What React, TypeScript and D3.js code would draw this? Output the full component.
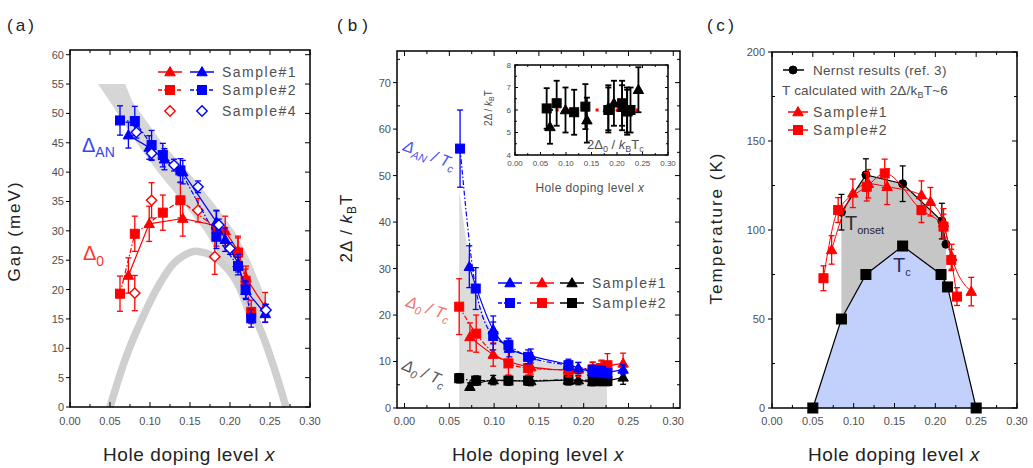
import React from "react";
import * as d3 from "d3";

type Pt = [number, number, number?];

// ---------------- Panel (a): gap (meV) vs hole doping, [x, value, error] ----------------
const aAN_S1: Pt[] = [[0.073,46.3,2.2],[0.099,44.2,2],[0.118,42.2,1.8],[0.141,40.0,2],[0.183,31.5,2],[0.194,28.5,2],[0.21,24.5,1.5],[0.22,19.8,1.5],[0.244,15.9,1.5]];
const aAN_S2: Pt[] = [[0.0625,48.8,2.5],[0.081,48.7,2.5],[0.102,44.6,2.5],[0.116,42.9,2],[0.138,40.3,2],[0.183,29.0,2],[0.21,24.0,1.5],[0.2195,20.0,1.5],[0.2265,15.1,1.5]];
const aAN_S4: Pt[] = [[0.083,46.8,1],[0.102,43.2,1.2],[0.13,41.2,1],[0.16,37.5,1],[0.186,31.0,1],[0.2,27.0,1],[0.245,16.5,1]];
const a0_S1: Pt[] = [[0.073,22.4,3],[0.099,31.2,3],[0.141,32.1,3],[0.183,30.9,2.5],[0.194,30.0,2.5],[0.21,26.6,2.5],[0.22,22.0,2],[0.244,17.0,2.5]];
const a0_S2: Pt[] = [[0.0625,19.3,3],[0.081,29.5,3],[0.116,33.1,3],[0.138,35.2,3],[0.183,30.4,3],[0.21,26.3,2.5],[0.2195,21.5,2],[0.2265,16.2,2]];
const a0_S4: Pt[] = [[0.081,19.4,3],[0.102,35.2,3],[0.16,33.5,2],[0.181,25.6,3]];
// grey guide band for Δ_AN: [gap, x left edge, x right edge]
const aBand: number[][] = [[55,0.035,0.069],[52,0.05,0.078],[45,0.083,0.115],[40,0.11,0.148],[35,0.14,0.178],[30,0.168,0.205],[25,0.19,0.225],[20,0.208,0.24],[15,0.222,0.252]];
// grey guide dome for Δ0: [x, gap]
const aDome: number[][] = [[0.05,0],[0.07,8.5],[0.09,15],[0.11,20.5],[0.13,24.5],[0.15,26.3],[0.16,26.5],[0.18,25.6],[0.2,23],[0.22,18.5],[0.24,12.5],[0.255,6.7],[0.27,0]];

// ---------------- Panel (b): 2Δ/kBT ----------------
const bAN_S1: Pt[] = [[0.0723,30.4,4.5],[0.099,16.8,3],[0.117,12.8,1.8],[0.141,11.2,1.5],[0.183,9.3,1.2],[0.194,8.6,1.2],[0.21,7.8,1],[0.22,7.6,1],[0.244,8.3,1]];
const bAN_S2: Pt[] = [[0.062,55.8,8.3],[0.0795,25.7,4.5],[0.099,15.5,3],[0.116,13.5,1.5],[0.138,11.0,1.5],[0.183,9.2,1],[0.21,8.2,1],[0.2195,8.0,1],[0.2265,7.5,1]];
const b0_S1: Pt[] = [[0.073,15.3,3],[0.099,11.5,2.5],[0.141,8.8,1.5],[0.183,8.2,1.5],[0.194,8.3,1.5],[0.21,8.4,1.5],[0.22,8.8,1.5],[0.244,9.6,2.2]];
const b0_S2: Pt[] = [[0.061,21.8,6],[0.08,16.0,4],[0.116,9.6,2.5],[0.138,8.6,1.5],[0.183,8.2,1.5],[0.21,8.3,1.5],[0.2195,8.6,1.5],[0.2265,9.2,2.5]];
const bT_S1: Pt[] = [[0.073,4.6,0.8],[0.099,6.0,1],[0.141,5.8,1],[0.183,6.0,1],[0.194,6.0,1],[0.21,5.6,0.8],[0.22,5.7,0.8],[0.244,6.6,1.5]];
const bT_S2: Pt[] = [[0.061,6.4,1],[0.08,5.9,1],[0.116,5.9,1],[0.138,5.9,1],[0.183,6.0,1],[0.21,6.0,1],[0.2195,5.8,1],[0.2265,5.8,1]];
const bShade: number[][] = [[0.061,47],[0.066,40],[0.072,32],[0.08,25],[0.09,19.5],[0.1,16],[0.115,13],[0.13,11.5],[0.15,10],[0.17,9.5],[0.19,9],[0.21,8.5],[0.226,8.5]];
// inset: 2Δ0/kBTc
const inS1: Pt[] = [[0.0686,5.25,0.75],[0.099,6.0,1],[0.141,5.55,1],[0.183,6.1,1],[0.194,6.3,1],[0.21,6.1,1],[0.22,5.9,1],[0.242,6.9,1]];
const inS2: Pt[] = [[0.0621,6.07,0.9],[0.0817,6.3,1],[0.116,5.9,1],[0.138,6.15,1],[0.183,6.0,1],[0.21,6.3,1],[0.2195,6.0,1],[0.2265,6.0,1]];
const inRef: number[][] = [[0.06,6],[0.245,6]];

// ---------------- Panel (c): temperature (K) ----------------
const cTc: number[][] = [[0.05,0],[0.085,50],[0.115,75],[0.16,91],[0.207,75],[0.215,68],[0.25,0]];
const cNernst: Pt[] = [[0.085,110,10],[0.115,131,9],[0.16,126,10],[0.208,105,10],[0.213,92,0]];
const cS1: Pt[] = [[0.073,88.8,8],[0.099,120.6,8],[0.118,126,8],[0.141,124.3,10],[0.183,119.6,8],[0.194,115.9,8],[0.21,104,8],[0.22,85,7],[0.244,65.4,8]];
const cS2: Pt[] = [[0.063,72.9,7],[0.081,111.2,7],[0.116,124.3,8],[0.138,131.8,8],[0.183,111.2,7],[0.21,101.9,7],[0.2195,83.2,6],[0.2265,62.6,5]];

// ticks
const xMajor = [0, 0.05, 0.1, 0.15, 0.2, 0.25, 0.3];
const xMinor = [0.025, 0.075, 0.125, 0.175, 0.225, 0.275];
const aYMajor = [0,5,10,15,20,25,30,35,40,45,50,55,60];
const bYMajor = [0,10,20,30,40,50,60,70];
const bYMinor = [5,15,25,35,45,55,65,75];
const cYMajor = [0,50,100,150,200];
const cYMinor = [25,75,125,175];
const inYMajor = [4,5,6,7,8];
const inYMinor = [4.5,5.5,6.5,7.5];

const FONT = "'Liberation Sans', Arial, Helvetica, sans-serif";
const RED = "#ff0000";
const BLUE = "#0000ff";
const TXT = "#505050";

function Mark({ shape, x, y, s, color, open }: any) {
  const h = s / 2;
  const fill = open ? "#fff" : color;
  if (shape === "sq") return <rect x={x - h} y={y - h} width={s} height={s} fill={fill} stroke={color} strokeWidth={1} />;
  if (shape === "tri") {
    const p = `M${x},${y - 0.6 * s}L${x + 0.58 * s},${y + 0.42 * s}L${x - 0.58 * s},${y + 0.42 * s}Z`;
    return <path d={p} fill={fill} stroke={color} strokeWidth={1} />;
  }
  if (shape === "dia") {
    const r = h * 1.15;
    const p = `M${x},${y - r}L${x + r},${y}L${x},${y + r}L${x - r},${y}Z`;
    return <path d={p} fill={fill} stroke={color} strokeWidth={1.4} />;
  }
  return <circle cx={x} cy={y} r={h} fill={fill} stroke={color} strokeWidth={1} />;
}

function Series({ data, sx, sy, color, shape, s = 9, dash, curve, open, line = true, cap = 3, lw = 1.2, ew = 1.3 }: any) {
  const gen = d3.line<any>().x((d) => sx(d[0])).y((d) => sy(d[1])).curve(curve || d3.curveLinear);
  return (
    <g>
      {line && <path d={gen(data) || ""} fill="none" stroke={color} strokeWidth={lw} strokeDasharray={dash} />}
      {data.map((d: Pt, i: number) =>
        d[2] ? (
          <g key={"e" + i} stroke={color} strokeWidth={ew}>
            <line x1={sx(d[0])} x2={sx(d[0])} y1={sy(d[1] - (d[2] as number))} y2={sy(d[1] + (d[2] as number))} />
            <line x1={sx(d[0]) - cap} x2={sx(d[0]) + cap} y1={sy(d[1] - (d[2] as number))} y2={sy(d[1] - (d[2] as number))} />
            <line x1={sx(d[0]) - cap} x2={sx(d[0]) + cap} y1={sy(d[1] + (d[2] as number))} y2={sy(d[1] + (d[2] as number))} />
          </g>
        ) : null
      )}
      {data.map((d: Pt, i: number) => (
        <Mark key={"m" + i} shape={shape} x={sx(d[0])} y={sy(d[1])} s={s} color={color} open={open} />
      ))}
    </g>
  );
}

function Frame({ sx, sy, xMaj, xMin, yMaj, yMin = [], xFmt, yFmt, fs = 11, tl = 5, tm = 3, leftOut = true, xLab = 17, yLab = 6, sw = 1.5 }: any) {
  const [x0, x1] = sx.range();
  const [y0, y1] = sy.range();
  return (
    <g>
      <g stroke="#000" strokeWidth={1}>
        {xMaj.map((v: number, i: number) => (
          <g key={"xm" + i}>
            <line x1={sx(v)} x2={sx(v)} y1={y0} y2={y0 - tl} />
            <line x1={sx(v)} x2={sx(v)} y1={y1} y2={y1 + tl} />
          </g>
        ))}
        {xMin.map((v: number, i: number) => (
          <g key={"xn" + i}>
            <line x1={sx(v)} x2={sx(v)} y1={y0} y2={y0 - tm} />
            <line x1={sx(v)} x2={sx(v)} y1={y1} y2={y1 + tm} />
          </g>
        ))}
        {yMaj.map((v: number, i: number) => (
          <g key={"ym" + i}>
            <line x1={leftOut ? x0 - 4 : x0} x2={leftOut ? x0 : x0 + tl} y1={sy(v)} y2={sy(v)} />
            <line x1={x1} x2={x1 - tl} y1={sy(v)} y2={sy(v)} />
          </g>
        ))}
        {yMin.map((v: number, i: number) => (
          <g key={"yn" + i}>
            <line x1={x0} x2={x0 + tm} y1={sy(v)} y2={sy(v)} />
            <line x1={x1} x2={x1 - tm} y1={sy(v)} y2={sy(v)} />
          </g>
        ))}
      </g>
      <rect x={x0} y={y1} width={x1 - x0} height={y0 - y1} fill="none" stroke="#000" strokeWidth={sw} />
      <g fill={TXT} fontSize={fs} fontFamily={FONT}>
        {xMaj.map((v: number, i: number) => (
          <text key={"xl" + i} x={sx(v)} y={y0 + xLab} textAnchor="middle">{xFmt(v)}</text>
        ))}
        {yMaj.map((v: number, i: number) => (
          <text key={"yl" + i} x={x0 - yLab} y={sy(v) + fs * 0.36} textAnchor="end">{yFmt(v)}</text>
        ))}
      </g>
    </g>
  );
}

function XTitle({ x, y, size = 19 }: any) {
  return (
    <text x={x} y={y} textAnchor="middle" fontSize={size} fontFamily={FONT} fill="#222" letterSpacing={0.6}>
      Hole doping level <tspan fontStyle="italic">x</tspan>
    </text>
  );
}

function LegendRow({ x, y, items, label, w = 12 }: any) {
  return (
    <g>
      {items.map((it: any, i: number) => (
        <g key={i}>
          <line x1={it.x - w} x2={it.x + w} y1={y} y2={y} stroke={it.color} strokeWidth={1.5} strokeDasharray={it.dash} />
          <Mark shape={it.shape} x={it.x} y={y} s={9} color={it.color} open={it.open} />
        </g>
      ))}
      <text x={x} y={y + 5} fontSize={14} fontFamily={FONT} fill={TXT} letterSpacing={1.5}>{label}</text>
    </g>
  );
}

export default function App() {
  const f2 = d3.format(".2f");
  const f0 = d3.format("d");
  const DASH = "5,2,1.5,2";

  // panel a
  const aX = d3.scaleLinear().domain([0, 0.3]).range([70, 310]);
  const aY = d3.scaleLinear().domain([0, 60.8]).range([407, 50]);
  const bandArea = d3.area<number[]>().y((d) => aY(d[0])).x0((d) => aX(d[1])).x1((d) => aX(d[2]));
  const domeLine = d3.line<number[]>().x((d) => aX(d[0])).y((d) => aY(d[1])).curve(d3.curveCatmullRom);

  // panel b
  const bX = d3.scaleLinear().domain([-0.0084, 0.3075]).range([397, 680]);
  const bY = d3.scaleLinear().domain([0, 76.8]).range([408, 51]);
  const shadeArea = d3.area<number[]>().x((d) => bX(d[0])).y0(bY(0)).y1((d) => bY(d[1])).curve(d3.curveMonotoneX);
  const iX = d3.scaleLinear().domain([0, 0.3]).range([515, 668]);
  const iY = d3.scaleLinear().domain([4, 8]).range([155, 65]);

  // panel c
  const cX = d3.scaleLinear().domain([0, 0.3]).range([772, 1017]);
  const cY = d3.scaleLinear().domain([0, 200]).range([408, 52]);
  const tcInterp = d3.scaleLinear().domain(cTc.map((d) => d[0])).range(cTc.map((d) => d[1]));
  const tcArea = d3.area<number[]>().x((d) => cX(d[0])).y0(cY(0)).y1((d) => cY(d[1]));
  const nx0 = cNernst[0][0];
  const nx1 = cNernst[cNernst.length - 1][0];
  const grayPoly: number[][] = [
    ...cNernst.map((d) => [d[0], d[1]]),
    [nx1, tcInterp(nx1)],
    ...cTc.filter((d) => d[0] > nx0 && d[0] < nx1).reverse(),
    [nx0, tcInterp(nx0)],
  ];
  const polyLine = d3.line<number[]>().x((d) => cX(d[0])).y((d) => cY(d[1]));
  const tcLine = d3.line<number[]>().x((d) => cX(d[0])).y((d) => cY(d[1]));

  return (
    <svg width={1033} height={468} style={{ display: "block", position: "absolute", left: 0, top: 0, background: "#fff" }} fontFamily={FONT}>
      <rect width={1033} height={468} fill="#fff" />

      {/* ================= Panel (a) ================= */}
      <text x={7} y={31} fontSize={17} fill="#222" textLength={27}>(a)</text>
      <path d={bandArea(aBand) || ""} fill="#d6d6d6" />
      <path d={domeLine(aDome) || ""} fill="none" stroke="#cfcfcf" strokeWidth={7.5} />
      <Frame sx={aX} sy={aY} xMaj={xMajor} xMin={xMinor} yMaj={aYMajor} xFmt={f2} yFmt={f0} xLab={18} />
      <Series data={a0_S2} sx={aX} sy={aY} color={RED} shape="sq" dash={DASH} />
      <Series data={a0_S1} sx={aX} sy={aY} color={RED} shape="tri" />
      <Series data={a0_S4} sx={aX} sy={aY} color={RED} shape="dia" open line={false} />
      <Series data={aAN_S2} sx={aX} sy={aY} color={BLUE} shape="sq" dash={DASH} />
      <Series data={aAN_S1} sx={aX} sy={aY} color={BLUE} shape="tri" />
      <Series data={aAN_S4} sx={aX} sy={aY} color={BLUE} shape="dia" open line={false} />
      <LegendRow x={222} y={72} label="Sample#1" items={[{ x: 170, color: RED, shape: "tri" }, { x: 202, color: BLUE, shape: "tri" }]} />
      <LegendRow x={222} y={90} label="Sample#2" items={[{ x: 170, color: RED, shape: "sq", dash: "4,2,1.5,2" }, { x: 202, color: BLUE, shape: "sq", dash: "4,2,1.5,2" }]} />
      <g>
        <Mark shape="dia" x={170} y={111} s={9} color={RED} open />
        <Mark shape="dia" x={202} y={111} s={9} color={BLUE} open />
        <text x={222} y={116} fontSize={14} fill={TXT} letterSpacing={1.5}>Sample#4</text>
      </g>
      <text x={82} y={152} fontSize={20} fill="#3344ee">Δ<tspan dy={5} fontSize={14}>AN</tspan></text>
      <text x={83} y={260} fontSize={20} fill="#ff3333">Δ<tspan dy={6} fontSize={14}>0</tspan></text>
      <text transform="translate(20,231) rotate(-90)" textAnchor="middle" fontSize={17} fill="#222" letterSpacing={2}>Gap (meV)</text>
      <XTitle x={189} y={461} />

      {/* ================= Panel (b) ================= */}
      <text x={337} y={31} fontSize={17} fill="#222" textLength={31}>(b)</text>
      <path d={shadeArea(bShade) || ""} fill="#dcdcdc" />
      <Frame sx={bX} sy={bY} xMaj={xMajor} xMin={xMinor} yMaj={bYMajor} yMin={bYMinor} xFmt={f2} yFmt={f0} xLab={17} />
      <Series data={bT_S2} sx={bX} sy={bY} color="#000" shape="sq" dash={DASH} curve={d3.curveMonotoneX} />
      <Series data={bT_S1} sx={bX} sy={bY} color="#000" shape="tri" curve={d3.curveMonotoneX} />
      <Series data={b0_S2} sx={bX} sy={bY} color={RED} shape="sq" dash={DASH} curve={d3.curveMonotoneX} />
      <Series data={b0_S1} sx={bX} sy={bY} color={RED} shape="tri" curve={d3.curveMonotoneX} />
      <Series data={bAN_S2} sx={bX} sy={bY} color={BLUE} shape="sq" dash={DASH} curve={d3.curveMonotoneX} />
      <Series data={bAN_S1} sx={bX} sy={bY} color={BLUE} shape="tri" curve={d3.curveMonotoneX} />
      <LegendRow x={592} y={283} label="Sample#1" items={[{ x: 510, color: BLUE, shape: "tri" }, { x: 542, color: RED, shape: "tri" }, { x: 572, color: "#000", shape: "tri" }]} />
      <LegendRow x={592} y={303} label="Sample#2" items={[{ x: 510, color: BLUE, shape: "sq", dash: "4,2,1.5,2" }, { x: 542, color: RED, shape: "sq" }, { x: 572, color: "#000", shape: "sq" }]} />
      <text transform="translate(402,150) rotate(21)" fontSize={16} fontStyle="italic" fill="#4455ee">Δ<tspan dy={4} fontSize={11}>AN</tspan><tspan dy={-4}> / T</tspan><tspan dy={4} fontSize={11}>c</tspan></text>
      <text transform="translate(405,306) rotate(19)" fontSize={16} fontStyle="italic" fill="#f07070">Δ<tspan dy={4} fontSize={11}>0</tspan><tspan dy={-4}> / T</tspan><tspan dy={4} fontSize={11}>c</tspan></text>
      <text transform="translate(401,369) rotate(23)" fontSize={16} fontStyle="italic" fill="#555">Δ<tspan dy={4} fontSize={11}>0</tspan><tspan dy={-4}> / T</tspan><tspan dy={4} fontSize={11}>c</tspan></text>
      <text transform="translate(352,228) rotate(-90)" textAnchor="middle" fontSize={17} fill="#222" letterSpacing={1}>2Δ / <tspan fontStyle="italic">k</tspan><tspan dy={4} fontSize={12}>B</tspan><tspan dy={-4}>T</tspan></text>
      <XTitle x={538} y={461} />

      {/* inset */}
      <rect x={515} y={65} width={153} height={90} fill="#fff" />
      <path d={d3.line<number[]>().x((d) => iX(d[0])).y((d) => iY(d[1]))(inRef) || ""} stroke={RED} strokeWidth={3} strokeDasharray="3,7" fill="none" />
      <Frame sx={iX} sy={iY} xMaj={xMajor} xMin={xMinor} yMaj={inYMajor} yMin={inYMinor} xFmt={f2} yFmt={f0} fs={8} tl={3} tm={2} leftOut={false} xLab={11} yLab={4} />
      <Series data={inS2} sx={iX} sy={iY} color="#000" shape="sq" line={false} s={9} cap={3} ew={1.8} />
      <Series data={inS1} sx={iX} sy={iY} color="#000" shape="tri" line={false} s={9} cap={3} ew={1.8} />
      <text x={587} y={149} fontSize={13} fill={TXT}>2Δ<tspan dy={3} fontSize={9}>0</tspan><tspan dy={-3}> / </tspan><tspan fontStyle="italic">k</tspan><tspan dy={3} fontSize={9}>B</tspan><tspan dy={-3}>T</tspan><tspan dy={3} fontSize={9}>c</tspan></text>
      <text transform="translate(492,108) rotate(-90)" textAnchor="middle" fontSize={10} fill={TXT}>2Δ / <tspan fontStyle="italic">k</tspan><tspan dy={2} fontSize={7}>B</tspan><tspan dy={-2}>T</tspan></text>
      <text x={590} y={192} textAnchor="middle" fontSize={12} fill={TXT} letterSpacing={0.4}>Hole doping level <tspan fontStyle="italic">x</tspan></text>

      {/* ================= Panel (c) ================= */}
      <text x={707} y={31} fontSize={17} fill="#222" textLength={27}>(c)</text>
      <path d={tcArea(cTc) || ""} fill="#c2d1fb" />
      <path d={(polyLine(grayPoly) || "") + "Z"} fill="#c6c6c6" />
      <Frame sx={cX} sy={cY} xMaj={xMajor} xMin={xMinor} yMaj={cYMajor} yMin={cYMinor} xFmt={f2} yFmt={f0} xLab={17} yLab={7} />
      <path d={tcLine(cTc) || ""} fill="none" stroke="#000" strokeWidth={1.2} />
      {cTc.map((d, i) => (
        <Mark key={"tc" + i} shape="sq" x={cX(d[0])} y={cY(d[1])} s={10} color="#000" />
      ))}
      <Series data={cNernst} sx={cX} sy={cY} color="#000" shape="circ" s={8} />
      <Series data={cS2} sx={cX} sy={cY} color={RED} shape="sq" curve={d3.curveMonotoneX} lw={1} />
      <Series data={cS1} sx={cX} sy={cY} color={RED} shape="tri" curve={d3.curveMonotoneX} lw={1} />
      <text x={845} y={230} fontSize={20} fill="#3a2a2a">T<tspan dy={4} fontSize={11} fill="#223">onset</tspan></text>
      <text x={893} y={272} fontSize={20} fill="#2a2a55">T<tspan dy={4} fontSize={11}>c</tspan></text>
      {/* legend */}
      <line x1={783} x2={804} y1={70} y2={70} stroke="#000" strokeWidth={1.5} />
      <Mark shape="circ" x={793} y={70} s={8} color="#000" />
      <text x={813} y={75} fontSize={13.5} fill={TXT} letterSpacing={0.3}>Nernst results (ref. 3)</text>
      <text x={782} y={95} fontSize={13.5} fill={TXT} letterSpacing={0.2}>T calculated with 2Δ/k<tspan dy={3} fontSize={9}>B</tspan><tspan dy={-3}>T~6</tspan></text>
      <LegendRow x={813} y={112} label="Sample#1" w={10} items={[{ x: 798, color: RED, shape: "tri" }]} />
      <LegendRow x={813} y={130} label="Sample#2" w={10} items={[{ x: 798, color: RED, shape: "sq" }]} />
      <text transform="translate(722,228) rotate(-90)" textAnchor="middle" fontSize={17} fill="#222" letterSpacing={2}>Temperature (K)</text>
      <XTitle x={894} y={461} />
    </svg>
  );
}
